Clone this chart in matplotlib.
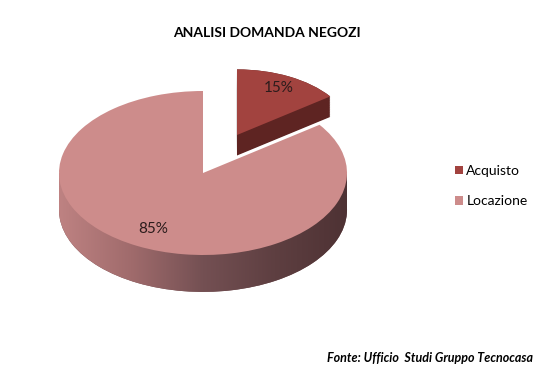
import matplotlib.pyplot as plt
import numpy as np
from matplotlib.colors import LinearSegmentedColormap
from matplotlib.patches import Rectangle

# Analisi domanda negozi - Fonte: Ufficio Studi Gruppo Tecnocasa
categories = ['Acquisto', 'Locazione']
shares = [15, 85]
top_colors = ['#A2433F', '#CD8C8B']
side_dark = '#5E2422'
side_grad = ['#BE8282', '#A06B6C', '#745053', '#5E3F41', '#4E3234']

plt.rcParams['font.family'] = ['Lato', 'DejaVu Sans']
fig = plt.figure(figsize=(5.39, 3.73), dpi=100)
ax = fig.add_axes([0, 0, 1, 1])

depth = 0.45       # thickness of the front of the pie
depth_back = 0.25  # thickness of the exploded slice (further away, looks thinner)
r_back = 0.8       # exploded slice looks smaller (perspective)
explode = [0.52, 0]
pie_kw = dict(startangle=90, counterclock=False, wedgeprops=dict(linewidth=0))
txt_kw = dict(fontsize=11, color='#2B1C1C')

# side of the exploded slice: stack of darker wedges
for k in np.linspace(depth_back, 0, 30):
    w, _ = ax.pie(shares, explode=explode, center=(0, -k), radius=r_back,
                  colors=[side_dark, 'none'], **pie_kw)
    w[1].set_visible(False)
    w[0].set_zorder(1)

# top of the exploded slice
wa, _, ta = ax.pie(shares, explode=explode, radius=r_back, colors=top_colors,
                   autopct='%1.0f%%', pctdistance=0.8, textprops=txt_kw, **pie_kw)
wa[1].set_visible(False)
ta[1].set_visible(False)
wa[0].set_zorder(2)
ta[0].set_zorder(6)

# side of the big slice: gradient clipped to bottom wedge + band
wb, _ = ax.pie(shares, explode=explode, center=(0, -depth),
               colors=['none', side_grad[2]], **pie_kw)
wb[0].set_visible(False)
wb[1].set_zorder(3)
band = Rectangle((-1, -depth), 2, depth, color=side_grad[2], lw=0, zorder=3)
ax.add_patch(band)
cmap = LinearSegmentedColormap.from_list('side', side_grad)
grad = np.linspace(0, 1, 256).reshape(1, -1)
for clip in (wb[1], band):
    im = ax.imshow(grad, cmap=cmap, extent=(-1, 1, -1 - depth, 0),
                   aspect='auto', interpolation='bilinear', zorder=3.5)
    im.set_clip_path(clip)

# top of the big slice
wt, _, tt = ax.pie(shares, explode=explode, colors=top_colors,
                   autopct='%1.0f%%', pctdistance=0.76, textprops=txt_kw, **pie_kw)
wt[0].set_visible(False)
tt[0].set_visible(False)
wt[1].set_zorder(4)
tt[1].set_zorder(6)

ax.set_aspect('auto')
ax.set_xlim(-203 / 144, (539 - 203) / 144)
ax.set_ylim((173 - 373) / 82, 173 / 82)
ax.axis('off')

fig.text(267 / 539, 1 - 33 / 373, 'ANALISI DOMANDA NEGOZI', ha='center', va='center',
         fontsize=10, fontweight='bold')
fig.text(533 / 539, 1 - 358 / 373, 'Fonte: Ufficio  Studi Gruppo Tecnocasa', ha='right',
         va='center', fontsize=9, fontweight='bold', style='italic')
fig.legend([wa[0], wt[1]], categories, loc='center left',
           bbox_to_anchor=(442 / 539, 1 - 186 / 373),
           frameon=False, fontsize=10, handlelength=0.6, handleheight=0.6,
           handletextpad=0.25, labelspacing=1.3)

fig.savefig('out.png', dpi=100)
